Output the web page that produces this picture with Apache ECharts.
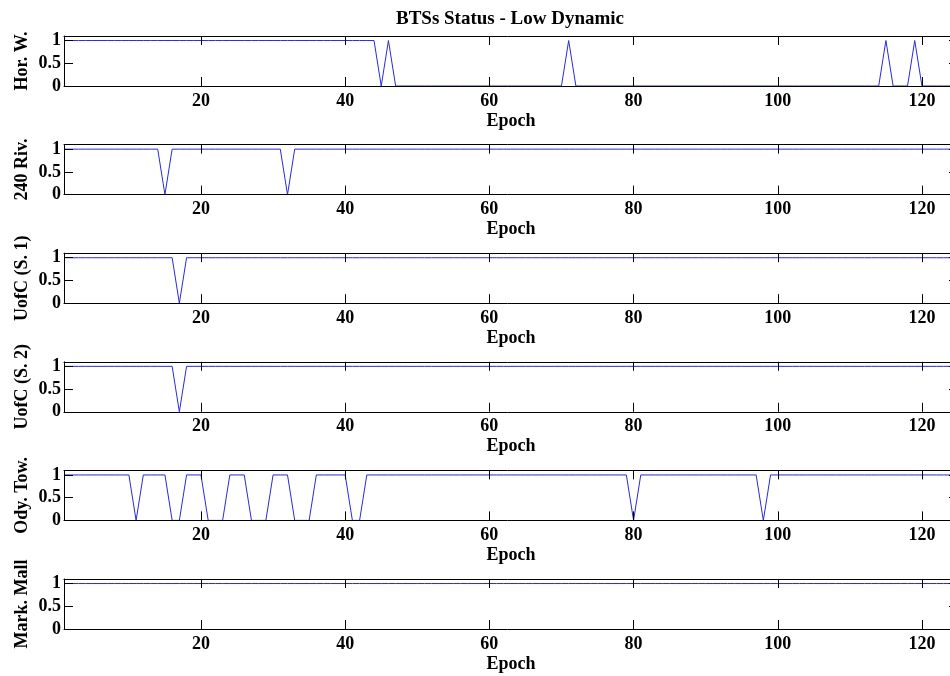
<!DOCTYPE html>
<html>
<head>
<meta charset="utf-8">
<title>BTSs Status - Low Dynamic</title>
<script src="https://cdn.jsdelivr.net/npm/echarts@6/dist/echarts.min.js"></script>
<style>
  html, body { margin: 0; padding: 0; background: #ffffff; }
  #chart { width: 950px; height: 676px; }
</style>
</head>
<body>
<div id="chart"></div>
<script>
// Station availability (1 = visible, 0 = not visible) for epochs 1..125
const horW = [
  1,1,1,1,1,1,1,1,1,1, 1,1,1,1,1,1,1,1,1,1,
  1,1,1,1,1,1,1,1,1,1, 1,1,1,1,1,1,1,1,1,1,
  1,1,1,1,0,1,0,0,0,0, 0,0,0,0,0,0,0,0,0,0,
  0,0,0,0,0,0,0,0,0,0, 1,0,0,0,0,0,0,0,0,0,
  0,0,0,0,0,0,0,0,0,0, 0,0,0,0,0,0,0,0,0,0,
  0,0,0,0,0,0,0,0,0,0, 0,0,0,0,1,0,0,0,1,0,
  0,0,0,0,0
];
const riv240 = [
  1,1,1,1,1,1,1,1,1,1, 1,1,1,1,0,1,1,1,1,1,
  1,1,1,1,1,1,1,1,1,1, 1,0,1,1,1,1,1,1,1,1,
  1,1,1,1,1,1,1,1,1,1, 1,1,1,1,1,1,1,1,1,1,
  1,1,1,1,1,1,1,1,1,1, 1,1,1,1,1,1,1,1,1,1,
  1,1,1,1,1,1,1,1,1,1, 1,1,1,1,1,1,1,1,1,1,
  1,1,1,1,1,1,1,1,1,1, 1,1,1,1,1,1,1,1,1,1,
  1,1,1,1,1
];
const uofcS1 = [
  1,1,1,1,1,1,1,1,1,1, 1,1,1,1,1,1,0,1,1,1,
  1,1,1,1,1,1,1,1,1,1, 1,1,1,1,1,1,1,1,1,1,
  1,1,1,1,1,1,1,1,1,1, 1,1,1,1,1,1,1,1,1,1,
  1,1,1,1,1,1,1,1,1,1, 1,1,1,1,1,1,1,1,1,1,
  1,1,1,1,1,1,1,1,1,1, 1,1,1,1,1,1,1,1,1,1,
  1,1,1,1,1,1,1,1,1,1, 1,1,1,1,1,1,1,1,1,1,
  1,1,1,1,1
];
const uofcS2 = [
  1,1,1,1,1,1,1,1,1,1, 1,1,1,1,1,1,0,1,1,1,
  1,1,1,1,1,1,1,1,1,1, 1,1,1,1,1,1,1,1,1,1,
  1,1,1,1,1,1,1,1,1,1, 1,1,1,1,1,1,1,1,1,1,
  1,1,1,1,1,1,1,1,1,1, 1,1,1,1,1,1,1,1,1,1,
  1,1,1,1,1,1,1,1,1,1, 1,1,1,1,1,1,1,1,1,1,
  1,1,1,1,1,1,1,1,1,1, 1,1,1,1,1,1,1,1,1,1,
  1,1,1,1,1
];
const odyTow = [
  1,1,1,1,1,1,1,1,1,1, 0,1,1,1,1,0,0,1,1,1,
  0,0,0,1,1,1,0,0,0,1, 1,1,0,0,0,1,1,1,1,1,
  0,0,1,1,1,1,1,1,1,1, 1,1,1,1,1,1,1,1,1,1,
  1,1,1,1,1,1,1,1,1,1, 1,1,1,1,1,1,1,1,1,0,
  1,1,1,1,1,1,1,1,1,1, 1,1,1,1,1,1,1,0,1,1,
  1,1,1,1,1,1,1,1,1,1, 1,1,1,1,1,1,1,1,1,1,
  1,1,1,1,1
];
const markMall = [
  1,1,1,1,1,1,1,1,1,1, 1,1,1,1,1,1,1,1,1,1,
  1,1,1,1,1,1,1,1,1,1, 1,1,1,1,1,1,1,1,1,1,
  1,1,1,1,1,1,1,1,1,1, 1,1,1,1,1,1,1,1,1,1,
  1,1,1,1,1,1,1,1,1,1, 1,1,1,1,1,1,1,1,1,1,
  1,1,1,1,1,1,1,1,1,1, 1,1,1,1,1,1,1,1,1,1,
  1,1,1,1,1,1,1,1,1,1, 1,1,1,1,1,1,1,1,1,1,
  1,1,1,1,1
];

const stationNames = ['Hor. W.', '240 Riv.', 'UofC (S. 1)', 'UofC (S. 2)', 'Ody. Tow.', 'Mark. Mall'];
const stationSeries = [horW, riv240, uofcS1, uofcS2, odyTow, markMall];
const xTicks = [20, 40, 60, 80, 100, 120];
const yTicks = [0, 0.5, 1];
const yTickLabels = ['0', '0.5', '1'];
const epochStart = 1;
const epochEnd = 125;
const chartTitle = 'BTSs Status - Low Dynamic';
const xName = 'Epoch';

const serif = "'Liberation Serif', 'Times New Roman', serif";
const panelLeft = 64, panelWidth = 894, panelHeight = 50, firstTop = 36, panelStep = 108.6;
const tickLen = 9;

const grids = [], xAxes = [], yAxes = [], series = [];
stationNames.forEach((name, i) => {
  // the right edge of each panel runs just past the canvas
  grids.push({
    left: panelLeft, width: panelWidth, top: firstTop + i * panelStep, height: panelHeight,
    containLabel: false, outerBoundsMode: 'none'
  });
  // bottom x axis with labels and inward ticks
  xAxes.push({
    type: 'value', gridIndex: i, position: 'bottom', min: epochStart, max: epochEnd, z: 5,
    name: xName, nameLocation: 'middle', nameGap: 26,
    nameTextStyle: { fontFamily: serif, fontWeight: 'bold', fontSize: 18, color: '#000' },
    axisLine: { show: true, onZero: false, lineStyle: { color: '#000', width: 1 } },
    axisTick: { show: true, inside: true, length: tickLen, customValues: xTicks, lineStyle: { color: '#000' } },
    axisLabel: { show: true, margin: 6, customValues: xTicks, fontFamily: serif, fontWeight: 'bold', fontSize: 18, color: '#000' },
    splitLine: { show: false }
  });
  // top x axis: box edge with inward ticks only
  xAxes.push({
    type: 'value', gridIndex: i, position: 'top', min: epochStart, max: epochEnd, z: 5,
    axisLine: { show: true, onZero: false, lineStyle: { color: '#000', width: 1 } },
    axisTick: { show: true, inside: true, length: tickLen, customValues: xTicks, lineStyle: { color: '#000' } },
    axisLabel: { show: false },
    splitLine: { show: false }
  });
  yAxes.push({
    type: 'value', gridIndex: i, position: 'left', min: 0, max: 1.1, z: 5,
    name: name, nameLocation: 'middle', nameRotate: 90, nameGap: 33, nameMoveOverlap: false,
    nameTextStyle: { fontFamily: serif, fontWeight: 'bold', fontSize: 18, color: '#000' },
    axisLine: { show: true, onZero: false, lineStyle: { color: '#000', width: 1 } },
    axisTick: { show: true, inside: true, length: tickLen, customValues: yTicks, lineStyle: { color: '#000' } },
    axisLabel: {
      show: true, margin: 3, customValues: yTicks,
      formatter: v => yTickLabels[yTicks.indexOf(v)] !== undefined ? yTickLabels[yTicks.indexOf(v)] : String(v),
      fontFamily: serif, fontWeight: 'bold', fontSize: 18, color: '#000'
    },
    splitLine: { show: false }
  });
  // right y axis: box edge with inward ticks only
  yAxes.push({
    type: 'value', gridIndex: i, position: 'right', min: 0, max: 1.1, z: 5,
    axisLine: { show: true, onZero: false, lineStyle: { color: '#000', width: 1 } },
    axisTick: { show: true, inside: true, length: tickLen, customValues: yTicks, lineStyle: { color: '#000' } },
    axisLabel: { show: false },
    splitLine: { show: false }
  });
  series.push({
    type: 'line', name: name,
    xAxisIndex: i * 2, yAxisIndex: i * 2,
    data: stationSeries[i].map((v, k) => [epochStart + k, v]),
    showSymbol: false, symbol: 'none', z: 2,
    lineStyle: { color: '#2a2ad6', width: 1 },
    itemStyle: { color: '#2a2ad6' },
    animation: false
  });
});

const chart = echarts.init(document.getElementById('chart'), null, { renderer: 'canvas' });
chart.setOption({
  backgroundColor: '#ffffff',
  animation: false,
  title: {
    text: chartTitle, left: 505, top: 5, textAlign: 'center',
    textStyle: { fontFamily: serif, fontWeight: 'bold', fontSize: 19, color: '#000' }
  },
  grid: grids,
  xAxis: xAxes,
  yAxis: yAxes,
  series: series
});
</script>
</body>
</html>
